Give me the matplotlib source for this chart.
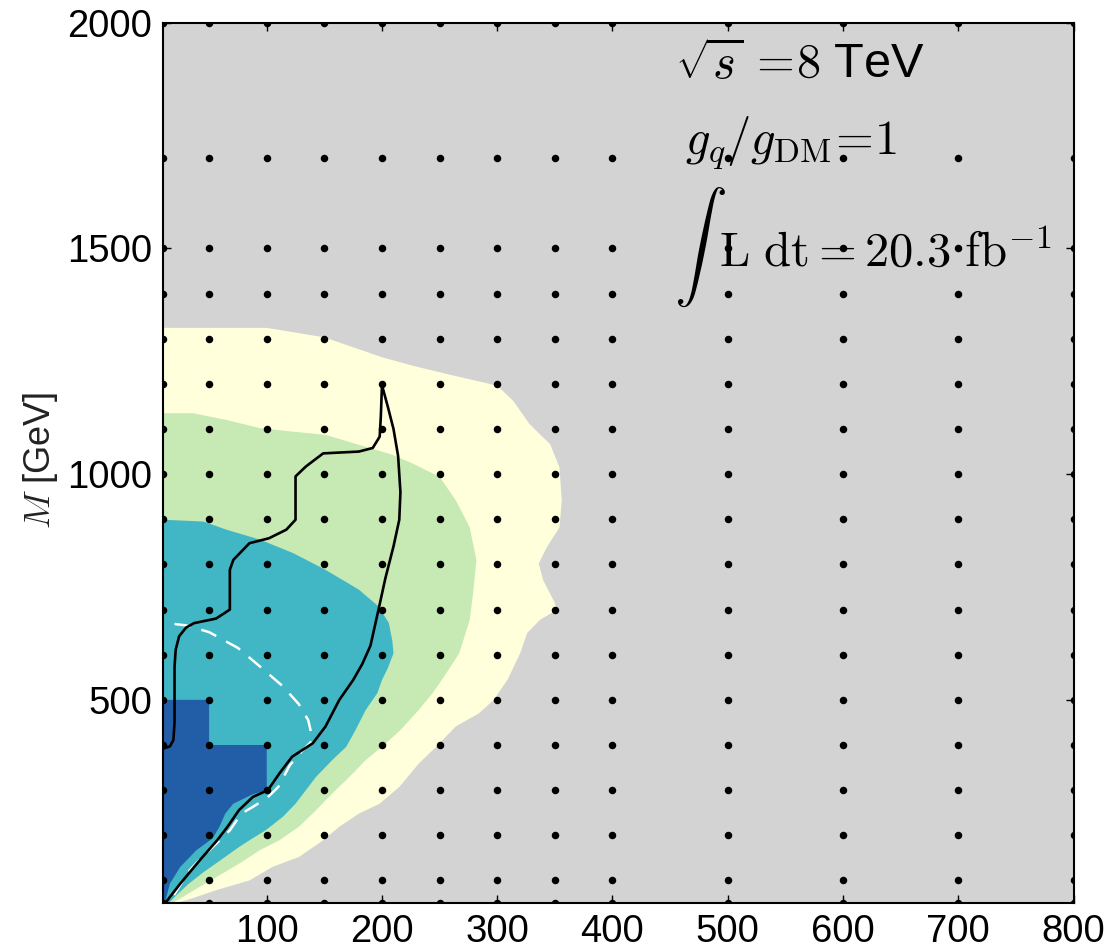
import matplotlib
matplotlib.use("Agg")
import matplotlib.pyplot as plt

plt.rcParams["font.family"] = ["Liberation Sans", "DejaVu Sans"]
plt.rcParams["mathtext.fontset"] = "cm"

# Exclusion regions in the (m_DM, M) plane, boundaries in GeV
yellow_x = [10, 100, 150, 200, 227, 256, 300, 314, 328, 346, 354, 356, 354, 343, 336,
            340, 349, 352, 337, 326, 320, 309, 297, 284, 264, 247, 232, 215, 198, 180,
            163, 149, 128, 105, 85, 57, 35, 22, 10]
yellow_m = [1324, 1324, 1303, 1259, 1240, 1222, 1196, 1162, 1111, 1066, 1015, 941, 882, 838, 802,
            764, 720, 700, 677, 648, 604, 545, 500, 470, 441, 396, 359, 307, 270, 248,
            219, 189, 152, 130, 100, 79, 60, 50, 50]

green_x = [10, 36, 65, 94, 123, 151, 180, 209, 227, 250, 264, 276, 282, 279, 276, 267,
           254, 244, 232, 216, 200, 186, 172, 157, 143, 128, 111, 94, 76, 58, 40, 25, 18, 10]
green_m = [1135, 1135, 1120, 1102, 1094, 1087, 1065, 1043, 1023, 994, 942, 883, 809, 735, 676, 603,
           552, 515, 478, 433, 396, 367, 330, 293, 256, 219, 189, 167, 137, 110, 83, 60, 50, 50]

teal_x = [10, 45, 65, 94, 123, 151, 180, 197, 206, 209, 210, 205, 200, 196, 186, 177,
          169, 157, 143, 134, 125, 114, 99, 85, 76, 60, 45, 32, 22, 15, 10]
teal_m = [899, 895, 877, 855, 825, 788, 744, 707, 670, 630, 603, 570, 544, 515, 478, 433,
          396, 367, 330, 300, 270, 241, 211, 189, 174, 145, 118, 92, 68, 50, 50]

blue_x = [10, 50, 50, 100, 100, 88, 71, 64, 59, 53, 39, 25, 16, 12, 10]
blue_m = [500, 500, 400, 400, 300, 291, 270, 248, 219, 193, 167, 130, 93, 54, 50]

# Observed limit (solid) and expected limit (dashed)
obs_x = [10, 16, 19, 20, 20, 20, 21, 24, 30, 37, 56, 68, 68, 71, 85, 102, 117, 125, 125,
         134, 149, 180, 192, 198, 199, 200, 205, 210, 214, 216, 215, 210, 203, 197, 190,
         183, 175, 163, 151, 140, 122, 111, 101, 88, 76, 66, 57, 42, 25, 12]
obs_m = [392, 397, 411, 450, 500, 573, 611, 641, 660, 670, 680, 700, 788, 810, 847, 858, 877, 899, 995,
         1017, 1046, 1050, 1058, 1083, 1128, 1197, 1150, 1100, 1040, 960, 899, 840, 770, 700, 620,
         580, 544, 500, 441, 404, 374, 337, 300, 285, 256, 219, 189, 145, 93, 50]

exp_x = [20, 30, 50, 75, 95, 114, 128, 136, 140, 130, 120, 110, 100, 88, 78, 68, 56, 44, 33, 22, 16]
exp_m = [668, 665, 650, 615, 572, 530, 490, 455, 411, 385, 355, 307, 282, 263, 248, 211, 181, 152, 122, 78, 52]

# Grid of generated signal points
grid_x = [10, 50, 100, 150, 200, 250, 300, 350, 400, 500, 600, 700, 800]
grid_m = [50, 100, 200, 300, 400, 500, 600, 700, 800, 900, 1000, 1100, 1200, 1300,
          1400, 1500, 1700, 2000]

x_ticks = [100, 200, 300, 400, 500, 600, 700, 800]
y_ticks = [500, 1000, 1500, 2000]

col_bg = "#d3d3d3"
col_yellow = "#ffffdc"
col_green = "#c7e9b4"
col_teal = "#41b6c4"
col_blue = "#225ea8"

W, H = 1112, 946
fig = plt.figure(figsize=(W / 100, H / 100), dpi=100)
ax = fig.add_axes([163 / W, 1 - 903 / H, (1073.5 - 163) / W, (903 - 22.7) / H])
ax.set_facecolor(col_bg)
ax.set_xlim(10, 800)
ax.set_ylim(50, 2000)

ax.fill(yellow_x, yellow_m, color=col_yellow, lw=0, zorder=1)
ax.fill(green_x, green_m, color=col_green, lw=0, zorder=2)
ax.fill(teal_x, teal_m, color=col_teal, lw=0, zorder=3)
ax.fill(blue_x, blue_m, color=col_blue, lw=0, zorder=4)

ax.plot(exp_x, exp_m, color="white", lw=1.8, ls=(0, (6.5, 4.5)), zorder=5,
        solid_joinstyle="round")
ax.plot(obs_x, obs_m, color="black", lw=1.9, zorder=6, solid_joinstyle="round")

gx = [x for m in grid_m for x in grid_x]
gm = [m for m in grid_m for x in grid_x]
ax.plot(gx, gm, ls="none", marker="o", ms=4.4, color="black", zorder=10)

ax.set_xticks(x_ticks)
ax.set_yticks(y_ticks)
ax.tick_params(direction="in", length=6, width=1, top=True, right=True,
               labelsize=27.5, colors="black")
ax.tick_params(axis="x", pad=8)
ax.tick_params(axis="y", pad=8)
for s in ax.spines.values():
    s.set_linewidth(1.5)
    s.set_zorder(12)

fig.text(40 / W, 1 - 461 / H, r"$M$ [GeV]", rotation=90, ha="center", va="center",
         fontsize=26, color="#222222")

# Labels inside the frame
ax.text(454, 1878, r"$\sqrt{s}\,=\!8$ TeV", fontsize=35, va="baseline", ha="left", zorder=8)
ax.text(463, 1707, r"$g_q/g_{\mathrm{DM}}\!=\!1$", fontsize=35, va="baseline", ha="left", zorder=8)
ax.text(453, 1503, r"$\int$", fontsize=38, va="center", ha="left", zorder=8)
ax.text(492, 1459, r"$\mathrm{L\ dt} = 20.3\ \mathrm{fb}^{-1}$", fontsize=35,
        va="baseline", ha="left", zorder=8)

fig.savefig("out.png", dpi=100)
